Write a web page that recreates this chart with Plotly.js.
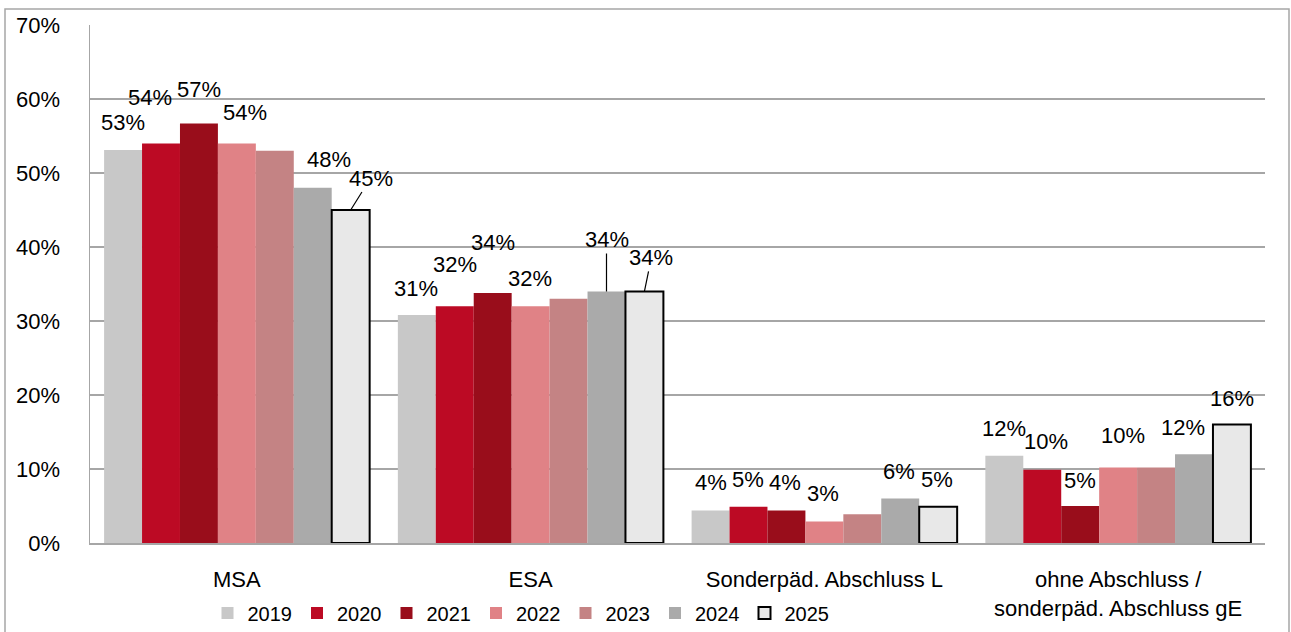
<!DOCTYPE html>
<html>
<head>
<meta charset="utf-8">
<script src="https://cdn.plot.ly/plotly-3.0.1.min.js"></script>
<style>
html,body{margin:0;padding:0;background:#fff;}
#chart{width:1291px;height:632px;}
</style>
</head>
<body>
<div id="chart"></div>
<script>
// ---- data ----
const categories = ['MSA', 'ESA', 'Sonderpäd. Abschluss L', 'ohne Abschluss /<br>sonderpäd. Abschluss gE'];
const years = ['2019', '2020', '2021', '2022', '2023', '2024', '2025'];
const v2019 = [53.1, 30.8, 4.4, 11.8];
const v2020 = [54.0, 32.0, 4.9, 9.9];
const v2021 = [56.7, 33.8, 4.4, 5.0];
const v2022 = [54.0, 32.0, 2.9, 10.2];
const v2023 = [53.0, 33.0, 3.9, 10.2];
const v2024 = [48.0, 34.0, 6.0, 12.0];
const v2025 = [45.0, 34.0, 4.9, 16.0];
const series = [v2019, v2020, v2021, v2022, v2023, v2024, v2025];
const labelled = [true, true, true, true, false, true, true];

// ---- styles ----
const colors = ['#c8c8c8', '#bc0a24', '#990d1b', '#e08286', '#c48384', '#aaaaaa', '#e8e8e8'];
// label placement per year per category: [dx px, dy px up, leader line]
const labelShift = [
  [[0, 28, 0], [-1, 27, 0], [0, 28, 0], [0, 27, 0]],
  [[-11, 46, 0], [0, 42, 0], [-1, 27, 0], [4, 28, 0]],
  [[0, 34, 0], [0, 50, 0], [-1, 28, 0], [0, 26, 0]],
  [[8, 31, 0], [-1, 28, 0], [-1, 28, 0], [5, 32, 0]],
  [[0, 28, 0], [0, 28, 0], [0, 28, 0], [0, 28, 0]],
  [[16, 28, 0], [0, 52, 1], [-1, 27, 0], [-11, 27, 0]],
  [[20, 32, 1], [7, 34, 1], [-1, 27, 0], [0, 26, 0]]
];
const FONT = 'Liberation Sans, Arial, sans-serif';
const bargap = 0.096;
const gridColor = '#a6a6a6';

const traces = years.map((y, j) => ({
  type: 'bar',
  name: y,
  x: categories,
  y: series[j],
  marker: {
    color: colors[j],
    line: { color: j === 6 ? '#000' : colors[j], width: j === 6 ? 2 : 0 }
  },
  hoverinfo: 'skip'
}));

const bw = (1 - bargap) / years.length;
const annotations = [];
series.forEach((vals, j) => {
  if (!labelled[j]) return;
  vals.forEach((v, i) => {
    const s = labelShift[j][i];
    const xpos = i + (j - (years.length - 1) / 2) * bw;
    const a = {
      x: xpos, y: v, xref: 'x', yref: 'y',
      text: Math.round(v) + '%',
      font: { family: FONT, size: 22, color: '#000' },
      xanchor: 'center', yanchor: 'middle'
    };
    if (s[2]) {
      a.showarrow = true; a.arrowhead = 0; a.arrowwidth = 1.2; a.arrowcolor = '#000';
      a.ax = s[0]; a.ay = -s[1]; a.standoff = 0;
    } else {
      a.showarrow = false; a.xshift = s[0]; a.yshift = s[1];
    }
    annotations.push(a);
  });
});

const layout = {
  width: 1291, height: 632,
  margin: { l: 90, r: 26, t: 25, b: 89, autoexpand: false },
  paper_bgcolor: '#fff', plot_bgcolor: '#fff',
  barmode: 'group', bargap: bargap, bargroupgap: 0,
  font: { family: FONT, size: 22, color: '#000' },
  showlegend: true,
  legend: {
    orientation: 'h', x: 0.1, xanchor: 'left', y: -0.135, yanchor: 'middle',
    font: { family: FONT, size: 20, color: '#000' },
    itemclick: false, traceorder: 'normal', itemwidth: 30
  },
  xaxis: {
    type: 'category', showgrid: false, showline: true, linecolor: gridColor, linewidth: 2,
    ticks: '', tickfont: { family: FONT, size: 22, color: '#000' }, ticklabelstandoff: 16,
    automargin: false, fixedrange: true
  },
  yaxis: {
    range: [0, 70], dtick: 10, ticksuffix: '%', showgrid: true, gridcolor: gridColor, gridwidth: 1.5,
    showline: true, linecolor: gridColor, linewidth: 1.5, zeroline: false,
    ticks: '', tickfont: { family: FONT, size: 22, color: '#000' }, ticklabelstandoff: 24,
    automargin: false, fixedrange: true
  },
  annotations: annotations,
  shapes: [{
    type: 'rect', xref: 'paper', yref: 'paper',
    x0: -85 / 1175, x1: 1199 / 1175, y0: -100 / 518, y1: 534 / 518,
    line: { color: '#a6a6a6', width: 1.5 }, fillcolor: 'rgba(0,0,0,0)', layer: 'above'
  }]
};

Plotly.newPlot('chart', traces, layout, { displayModeBar: false, staticPlot: true });
</script>
</body>
</html>
